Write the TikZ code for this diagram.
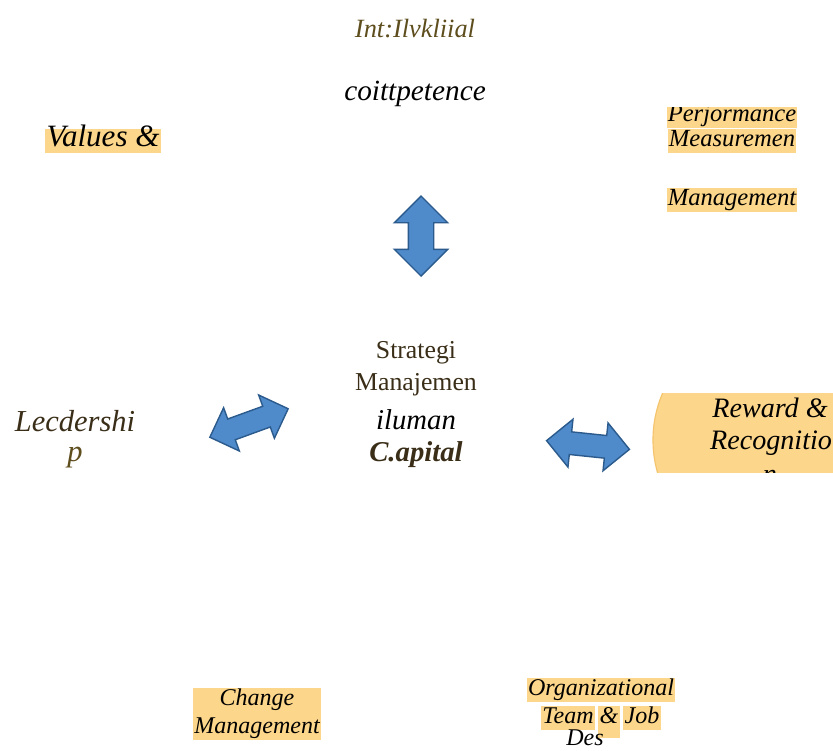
\documentclass[tikz,border=0pt]{standalone}
\usepackage{fontspec}
\setmainfont{Liberation Serif}
\usetikzlibrary{shapes.arrows}
\definecolor{hlc}{HTML}{FCD68A}
\definecolor{rimc}{HTML}{F4C56E}
\definecolor{arrowfill}{HTML}{4F8BCB}
\definecolor{arrowedge}{HTML}{2B5A8C}
\definecolor{olive}{HTML}{5E4E1E}
\definecolor{darkbrown}{HTML}{3A2E18}
\newcommand{\fsz}[1]{\fontsize{#1}{1.15\dimexpr#1\relax}\selectfont}
\tikzset{
  hl/.style={fill=hlc, inner xsep=1pt, inner ysep=0pt, text height=0.52cm, text depth=0.2cm},
  blockarrow/.style={double arrow, draw=arrowedge, fill=arrowfill, line width=1.2pt, inner sep=0pt, text depth=0pt},
}
\begin{document}
\begin{tikzpicture}[x=0.03cm,y=-0.03cm]
\clip (0,0) rectangle (833,751);
\fill[white] (0,0) rectangle (833,751);
\node[text=olive, font=\fsz{22.5pt}\itshape] (int) at (415,29) {Int:Ilvkliial};
\node[font=\fsz{25pt}\itshape] (comp) at (415,94) {coittpetence};
\node[hl, font=\fsz{26.5pt}\itshape] (values) at (103,141) {Values \&};
\begin{scope}
\clip (650,107) rectangle (833,230);
\node[hl, font=\fsz{21pt}\itshape] (perf) at (732,116) {Perjormance};
\node[hl, font=\fsz{21pt}\itshape] (meas) at (732,141) {Measuremen};
\end{scope}
\node[hl, font=\fsz{21pt}\itshape] (mgmt) at (732,200) {Management};
\node[blockarrow, rotate=90, minimum height=2.4cm, text height=0.72cm, double arrow head extend=0.42cm] (up) at (421,236) {};
\node[text=darkbrown, font=\fsz{22pt}] (strat) at (416,353) {Strategi};
\node[text=darkbrown, font=\fsz{22pt}] (manaj) at (416,385) {Manajemen};
\node[font=\fsz{24.5pt}\itshape] (human) at (416,420) {iluman};
\node[text=darkbrown, font=\fsz{24.5pt}\bfseries\itshape] (capital) at (416,455) {C.apital};
\node[text=darkbrown, font=\fsz{26pt}\itshape] (lead) at (75,421) {Lecdershi};
\node[text=olive, font=\fsz{26pt}\itshape] (leadp) at (75,458) {p};
\node[blockarrow, rotate=20, minimum height=2.5cm, text height=0.62cm, double arrow head extend=0.36cm] (left) at (249,423) {};
\node[blockarrow, rotate=-6, minimum height=2.5cm, text height=0.64cm, double arrow head extend=0.38cm] (right) at (588,445) {};
\begin{scope}
\clip (650,393) rectangle (833,472);
\draw[fill=hlc, draw=rimc, line width=1pt] (772,440) circle (119);
\node[font=\fsz{24pt}\itshape] (reward) at (770,408) {Reward \&};
\node[anchor=west, font=\fsz{24pt}\itshape] (recog) at (706,443) {Recognitio};
\node[font=\fsz{24pt}\itshape] (recogn) at (770,477) {n};
\end{scope}
\node[fill=hlc, inner xsep=1pt, inner ysep=1pt, align=center, font=\fsz{20.5pt}\itshape] (change) at (257,714) {Change\\Management};
\node[hl, font=\fsz{20.5pt}\itshape] (org) at (601,690) {Organizational};
\node[hl, font=\fsz{20.5pt}\itshape] (team) at (568,718) {Team};
\node[hl, font=\fsz{20.5pt}\itshape, text depth=0.45cm] (amp) at (609,722) {\&};
\node[hl, font=\fsz{20.5pt}\itshape] (job) at (642,718) {Job};
\node[font=\fsz{20.5pt}\itshape] (des) at (585,738) {Des};
\end{tikzpicture}
\end{document}
